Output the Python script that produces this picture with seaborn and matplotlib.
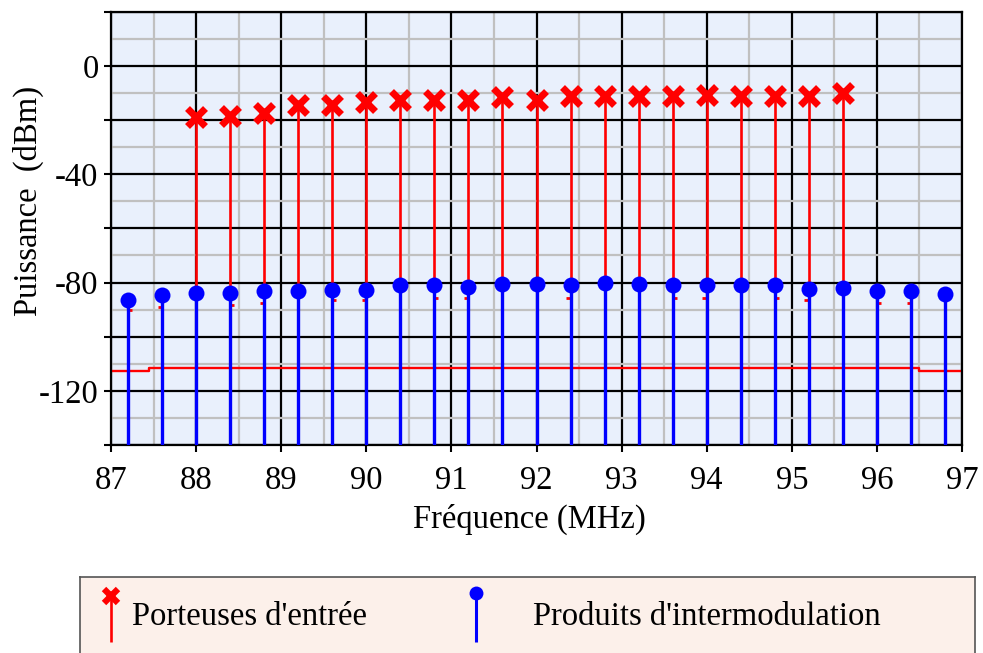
import matplotlib
matplotlib.use("Agg")
import matplotlib.pyplot as plt
import seaborn as sns
import pandas as pd
import numpy as np

# ---------------- data ----------------
carrier_freq = [88.0, 88.4, 88.8, 89.2, 89.6, 90.0, 90.4, 90.8, 91.2, 91.6,
                92.0, 92.4, 92.8, 93.2, 93.6, 94.0, 94.4, 94.8, 95.2, 95.6]
carrier_level = [-18.9, -18.4, -17.3, -14.6, -14.6, -13.3, -12.6, -12.6, -12.6, -11.6,
                 -12.6, -11.2, -11.1, -11.1, -11.1, -10.8, -11.3, -11.3, -11.1, -10.2]

im_freq = [87.2, 87.6, 88.0, 88.4, 88.8, 89.2, 89.6, 90.0, 90.4, 90.8,
           91.2, 91.6, 92.0, 92.4, 92.8, 93.2, 93.6, 94.0, 94.4, 94.8,
           95.2, 95.6, 96.0, 96.4, 96.8]
im_level = [-86.4, -84.5, -83.9, -83.9, -83.3, -83.3, -82.7, -82.7, -80.8, -80.8,
            -81.5, -80.6, -80.6, -80.8, -80.2, -80.6, -80.8, -80.8, -80.8, -80.8,
            -82.4, -82.1, -83.3, -83.3, -84.3]

# analyzer trace: noise floor and visible peak tips near the IM products
floor_freq = [87.0, 87.45, 96.5, 97.0]
floor_level = [-112.5, -111.6, -112.5, -112.5]
trace_peak_freq = [87.223, 87.576, 88.422, 88.774, 89.620, 89.979, 90.819, 91.177,
                   92.376, 93.622, 93.974, 94.820, 95.173, 96.019, 96.383]
trace_peak_level = [-90.1, -89.1, -88.2, -87.4, -86.6, -86.6, -85.8, -85.8,
                    -85.8, -85.8, -85.8, -85.8, -86.6, -87.4, -87.4]

x_ticks = list(range(87, 98))
y_ticks = list(range(-140, 21, 20))
y_tick_labels = ["" if v not in (0, -40, -80, -120) else str(v) for v in y_ticks]

x_label = "Fréquence (MHz)"
y_label = "Puissance  (dBm)"
legend_labels = ["Porteuses d'entrée", "Produits d'intermodulation"]

# ---------------- style ----------------
plt.rcParams["font.family"] = ["Liberation Serif", "DejaVu Serif"]
FS = 23.5
RED = "#ff0000"
BLUE = "#0000ff"

carriers = pd.DataFrame({"f": carrier_freq, "p": carrier_level})
ims = pd.DataFrame({"f": im_freq, "p": im_level})
floor = pd.DataFrame({"f": floor_freq, "p": floor_level})

fig = plt.figure(figsize=(9.83, 6.53), dpi=100)
ax = fig.add_axes([111 / 983, 1 - 445 / 653, 851 / 983, 433.3 / 653])
ax.set_facecolor("#e9f0fc")
ax.set_xlim(87, 97)
ax.set_ylim(-140, 20)

# grid
ax.set_xticks(x_ticks)
ax.set_xticks(np.arange(87, 97.01, 0.5), minor=True)
ax.set_yticks(y_ticks)
ax.set_yticks(np.arange(-140, 20.01, 10), minor=True)
ax.set_axisbelow(True)
ax.grid(which="minor", color="#c0c0c0", lw=1.6, zorder=0)
ax.grid(which="major", color="black", lw=1.6, zorder=0.5)
ax.set_yticklabels(y_tick_labels)
ax.set_xticklabels([str(v) for v in x_ticks])
ax.tick_params(which="minor", length=0)
ax.tick_params(which="major", direction="out", length=5, width=1.5, color="black",
               labelsize=FS, top=False, right=False)
ax.tick_params(axis="x", pad=10)
ax.tick_params(axis="y", pad=4)
for s in ax.spines.values():
    s.set_color("black")
    s.set_linewidth(1.6)

# noise floor trace
sns.lineplot(data=floor, x="f", y="p", ax=ax, color=RED, lw=1.7,
             drawstyle="steps-post", zorder=2, legend=False)
for f, p in zip(trace_peak_freq, trace_peak_level):
    ax.hlines(p, f - 0.025, f + 0.025, color=RED, lw=2, zorder=2)

# stems
ax.vlines(carriers["f"], -140, carriers["p"], color=RED, lw=1.9, zorder=3)
ax.vlines(ims["f"], -140, ims["p"], color=BLUE, lw=2.4, zorder=4)

# markers
sns.lineplot(data=carriers, x="f", y="p", ax=ax, linestyle="", marker="x",
             markersize=13.5, markeredgewidth=5, color=RED,
             markeredgecolor=RED, zorder=5, legend=False)
sns.lineplot(data=ims, x="f", y="p", ax=ax, linestyle="", marker="o",
             markersize=11.5, markeredgewidth=0, color=BLUE,
             markerfacecolor=BLUE, zorder=5, legend=False)

ax.set_xlabel(x_label, fontsize=FS)
ax.set_ylabel(y_label, fontsize=FS, va="center")
ax.xaxis.set_label_coords(0.492, -0.1916)
ax.xaxis.label.set_va("baseline")
ax.yaxis.set_label_coords((28.5 - 111) / 851, (445 - 201) / 433.3)

# ---------------- legend box ----------------
top_px = 577
lax = fig.add_axes([80 / 983, -0.06, 895 / 983, (653 - top_px) / 653 + 0.06])
lax.set_xlim(80, 975)
lax.set_ylim(653 + 0.06 * 653, top_px)
lax.set_facecolor("#fcf0ea")
lax.set_xticks([])
lax.set_yticks([])
for s in lax.spines.values():
    s.set_color("#555555")
    s.set_linewidth(1.2)

lax.vlines(111, 596, 642, color=RED, lw=1.9)
lax.plot([111], [596], linestyle="", marker="x", markersize=10,
         markeredgewidth=4.5, color=RED)
lax.vlines(476, 593, 642, color=BLUE, lw=2.2)
lax.plot([476], [593], linestyle="", marker="o", markersize=10,
         markeredgewidth=0, color=BLUE)
lax.text(132, 625, legend_labels[0], fontsize=FS, va="baseline", ha="left")
lax.text(533, 625, legend_labels[1], fontsize=FS, va="baseline", ha="left")

fig.savefig("out.png", dpi=100)
